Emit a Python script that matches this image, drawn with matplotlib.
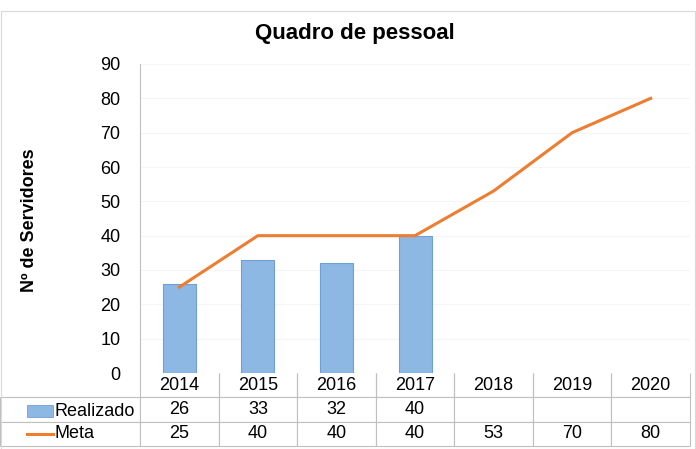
import matplotlib.pyplot as plt
from matplotlib.patches import Rectangle
from matplotlib.lines import Line2D

plt.rcParams['font.family'] = ['Liberation Sans', 'DejaVu Sans']

anos = ['2014', '2015', '2016', '2017', '2018', '2019', '2020']
realizado = [26, 33, 32, 40]
meta = [25, 40, 40, 40, 53, 70, 80]

azul = '#8db8e4'
laranja = '#ed7d31'
cinza = '#bfbfbf'

fig = plt.figure(figsize=(6.96, 4.49), dpi=100)
ax = fig.add_axes([140 / 696, 1 - 373 / 449, 550 / 696, 309 / 449])

x = list(range(len(anos)))
ax.bar(x[:len(realizado)], realizado, width=0.42, color=azul,
       edgecolor='#6f9fd4', linewidth=0.8, zorder=2)
ax.plot(x, meta, color=laranja, linewidth=2.2, zorder=3)

ax.set_xlim(-0.5, len(anos) - 0.5)
ax.set_ylim(0, 90)
ax.set_yticks(range(0, 91, 10))
ax.tick_params(axis='y', length=0, pad=14, labelsize=13)
ax.set_xticks([])
ax.grid(axis='y', color='#f5f5f5', linewidth=0.8, zorder=0)
for s in ['top', 'right', 'bottom']:
    ax.spines[s].set_visible(False)
ax.spines['left'].set_color(cinza)

# tabela de dados
frac = 140 / 550
h = 73 / 309
linhas = [[''] + anos,
          [''] + [str(v) for v in realizado] + [''] * (len(anos) - len(realizado)),
          [''] + [str(v) for v in meta]]
larg = [140] + [550 / 7] * 7
tab = ax.table(cellText=linhas, colWidths=larg, cellLoc='center',
               bbox=[-frac, -h, 1 + frac, h])
tab.auto_set_font_size(False)
tab.set_fontsize(13)
for (r, c), cel in tab.get_celld().items():
    cel.set_edgecolor(cinza)
    cel.set_linewidth(0.8)
    if r == 0 and c == 0:
        cel.visible_edges = ''
    elif r == 0:
        cel.visible_edges = 'LRB'

# rótulos de linha com chave da legenda
y_real = 1 - 411 / 449
y_meta = 1 - 434 / 449
fig.patches.append(Rectangle((27 / 696, y_real - 6 / 449), 26 / 696, 12 / 449,
                             transform=fig.transFigure, facecolor=azul,
                             edgecolor='#6f9fd4', linewidth=0.6))
fig.lines.append(Line2D([27 / 696, 53 / 696], [y_meta, y_meta],
                        transform=fig.transFigure, color=laranja, linewidth=2.2))
fig.text(54 / 696, y_real, 'Realizado', fontsize=13, va='center', ha='left')
fig.text(54 / 696, y_meta, 'Meta', fontsize=13, va='center', ha='left')

fig.text(355 / 696, 1 - 33 / 449, 'Quadro de pessoal', fontsize=16,
         fontweight='bold', ha='center', va='center')
fig.text(30 / 696, 1 - 220 / 449, 'Nº de Servidores', fontsize=13,
         fontweight='bold', rotation=90, ha='center', va='center')

fig.patches.append(Rectangle((1 / 696, 0), 694 / 696, 1 - 11 / 449,
                             transform=fig.transFigure, fill=False,
                             edgecolor='#d9d9d9', linewidth=0.8))

fig.savefig('out.png', dpi=100)
